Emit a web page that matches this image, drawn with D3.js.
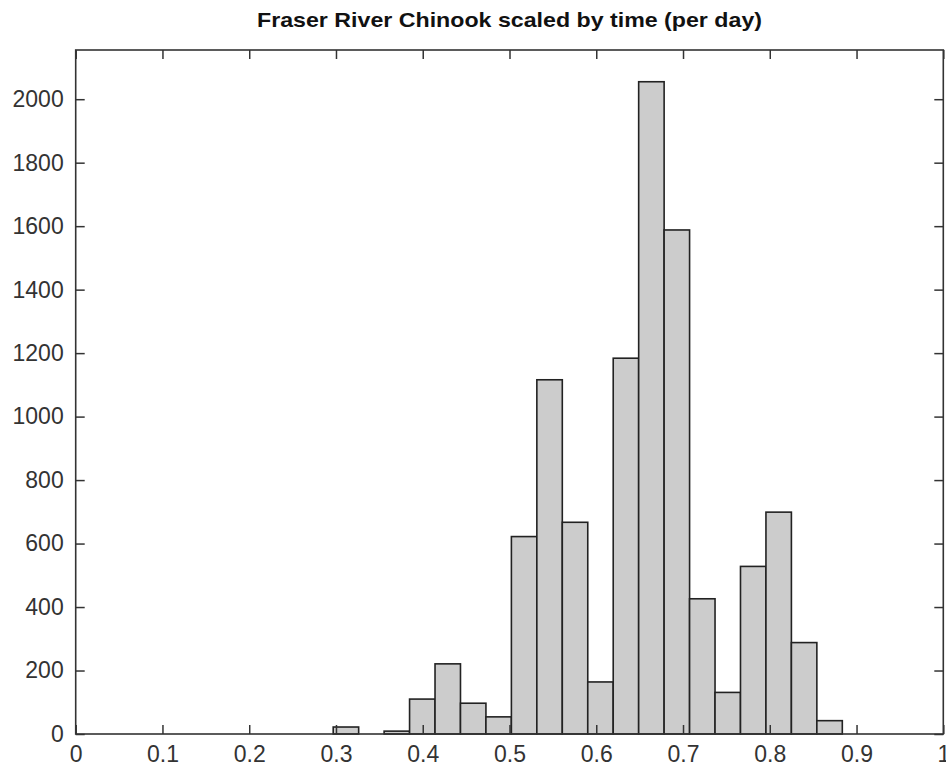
<!DOCTYPE html>
<html>
<head>
<meta charset="utf-8">
<script src="https://cdn.jsdelivr.net/npm/d3@7"></script>
<style>
  body { margin: 0; background: #fff; }
  .tick text { font-family: "Liberation Sans", Arial, sans-serif; font-size: 23px; fill: #333; }
</style>
</head>
<body>
<script>
// histogram data, 20 bins
var binStart = 0.2968,
    binWidth = 0.02934;
var counts = [22, 0, 9, 110, 221, 97, 54, 622, 1116, 667, 164, 1184, 2055, 1588, 426, 131, 528, 699, 288, 42];
var xTicks = [0, 0.1, 0.2, 0.3, 0.4, 0.5, 0.6, 0.7, 0.8, 0.9, 1];
var yTicks = [0, 200, 400, 600, 800, 1000, 1200, 1400, 1600, 1800, 2000];
var title = "Fraser River Chinook scaled by time (per day)";

var w = 946, h = 769;
var margin = {top: 50, right: 2.7, bottom: 35, left: 75.7},
    width = w - margin.left - margin.right,
    height = h - margin.top - margin.bottom;

var svg = d3.select("body").append("svg")
    .attr("width", w)
    .attr("height", h);

var g = svg.append("g")
    .attr("transform", "translate(" + margin.left + "," + margin.top + ")");

var xScale = d3.scaleLinear().domain([0, 1]).range([0, width]);
var yScale = d3.scaleLinear().domain([0, 2155]).range([height, 0]);

var bins = counts.map(function(c, i) {
  return {x0: binStart + i * binWidth, x1: binStart + (i + 1) * binWidth, n: c};
});

g.selectAll("rect.bar")
  .data(bins)
  .enter().append("rect")
    .attr("class", "bar")
    .attr("x", function(d) { return xScale(d.x0); })
    .attr("y", function(d) { return yScale(d.n); })
    .attr("width", function(d) { return xScale(d.x1) - xScale(d.x0); })
    .attr("height", function(d) { return height - yScale(d.n); })
    .attr("fill", "#cccccc")
    .attr("stroke", "#222")
    .attr("stroke-width", 1.6);

// axes, ticks pointing inward on all four sides
var axisStyle = function(sel) {
  sel.select(".domain").remove();
  sel.selectAll(".tick line").attr("stroke", "#333").attr("stroke-width", 1.5);
};

g.append("g")
  .attr("transform", "translate(0," + height + ")")
  .call(d3.axisBottom(xScale).tickValues(xTicks).tickSizeInner(-9).tickPadding(12)
        .tickFormat(function(d) { return String(+d.toFixed(1)); }))
  .call(axisStyle);

g.append("g")
  .call(d3.axisTop(xScale).tickValues(xTicks).tickSizeInner(-9).tickFormat(""))
  .call(axisStyle);

g.append("g")
  .call(d3.axisLeft(yScale).tickValues(yTicks).tickSizeInner(-9).tickPadding(12)
        .tickFormat(d3.format("d")))
  .call(axisStyle);

g.append("g")
  .attr("transform", "translate(" + width + ",0)")
  .call(d3.axisRight(yScale).tickValues(yTicks).tickSizeInner(-9).tickFormat(""))
  .call(axisStyle);

g.selectAll(".tick text").attr("font-family", null).attr("font-size", null).attr("fill", null);

// box
g.append("rect")
  .attr("width", width)
  .attr("height", height)
  .attr("fill", "none")
  .attr("stroke", "#333")
  .attr("stroke-width", 1.6);

svg.append("text")
  .attr("x", margin.left + width / 2)
  .attr("y", 27)
  .attr("text-anchor", "middle")
  .attr("font-family", "'Liberation Sans Narrow', 'Liberation Sans', Arial, sans-serif")
  .attr("font-weight", "bold")
  .attr("font-size", 21)
  .attr("fill", "#111")
  .attr("textLength", 505)
  .attr("lengthAdjust", "spacingAndGlyphs")
  .text(title);
</script>
</body>
</html>
